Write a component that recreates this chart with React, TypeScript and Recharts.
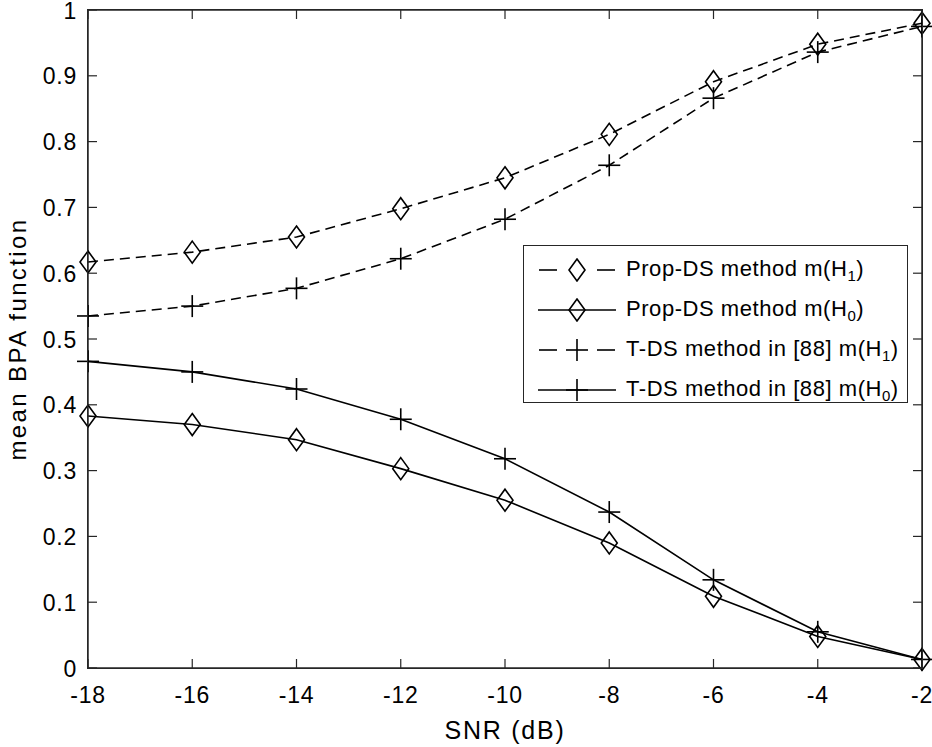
import { LineChart, Line, XAxis, YAxis, Label, ReferenceLine } from 'recharts'

const snr = [-18, -16, -14, -12, -10, -8, -6, -4, -2]
const propH1 = [0.617, 0.632, 0.655, 0.698, 0.745, 0.811, 0.891, 0.948, 0.98]
const propH0 = [0.383, 0.37, 0.347, 0.303, 0.255, 0.19, 0.109, 0.048, 0.013]
const tdsH1 = [0.535, 0.55, 0.577, 0.622, 0.682, 0.764, 0.866, 0.936, 0.975]
const tdsH0 = [0.466, 0.45, 0.424, 0.378, 0.318, 0.237, 0.134, 0.055, 0.013]

const xTicks = [-18, -16, -14, -12, -10, -8, -6, -4, -2]
const yTicks = [0, 0.1, 0.2, 0.3, 0.4, 0.5, 0.6, 0.7, 0.8, 0.9, 1]
const yTickLabels = ['0', '0.1', '0.2', '0.3', '0.4', '0.5', '0.6', '0.7', '0.8', '0.9', '1']

const legendItems = [
  { name: 'Prop-DS method m(H', sub: '1', marker: 'diamond', dashed: true },
  { name: 'Prop-DS method m(H', sub: '0', marker: 'diamond', dashed: false },
  { name: 'T-DS method in [88] m(H', sub: '1', marker: 'plus', dashed: true },
  { name: 'T-DS method in [88] m(H', sub: '0', marker: 'plus', dashed: false },
]

const data = snr.map((s, i) => ({
  snr: s,
  propH1: propH1[i],
  propH0: propH0[i],
  tdsH1: tdsH1[i],
  tdsH0: tdsH0[i],
}))

const FONT = '"Liberation Sans", Arial, Helvetica, sans-serif'
const AXIS = '#262626'
const DASH = '10 6'
const TICK_LEN = 9

const W = 932
const H = 747
const Y_AXIS_W = 88
const X_AXIS_H = 79
const MARGIN = { top: 10, right: 10, bottom: 0, left: 0 }
// plot box edges, used for the mirrored matlab-style ticks and the frame
const PLOT_TOP = MARGIN.top
const PLOT_RIGHT = W - MARGIN.right
const PLOT_LEFT = MARGIN.left + Y_AXIS_W
const PLOT_BOTTOM = H - MARGIN.bottom - X_AXIS_H

function diamondPath(cx: number, cy: number) {
  return `M${cx},${cy - 11} L${cx + 8},${cy} L${cx},${cy + 11} L${cx - 8},${cy} Z`
}

function DiamondDot(props: any) {
  const { cx, cy, index } = props
  if (cx == null || cy == null) return <g key={index} />
  return <path key={index} d={diamondPath(cx, cy)} fill="none" stroke="#000" strokeWidth={1.6} />
}

function PlusDot(props: any) {
  const { cx, cy, index } = props
  if (cx == null || cy == null) return <g key={index} />
  return (
    <g key={index} stroke="#000" strokeWidth={1.6}>
      <line x1={cx - 11} y1={cy} x2={cx + 11} y2={cy} />
      <line x1={cx} y1={cy - 11} x2={cx} y2={cy + 11} />
    </g>
  )
}

function BottomTick(props: any) {
  const { x, y, payload } = props
  return (
    <g>
      <line x1={x} y1={y} x2={x} y2={y - TICK_LEN} stroke={AXIS} strokeWidth={1.2} />
      <line x1={x} y1={PLOT_TOP} x2={x} y2={PLOT_TOP + TICK_LEN} stroke={AXIS} strokeWidth={1.2} />
      <text
        x={x}
        y={y + 35}
        textAnchor="middle"
        fontSize={23}
        letterSpacing={0.8}
        fill="#000"
        fontFamily={FONT}
      >
        {payload.value}
      </text>
    </g>
  )
}

function LeftTick(props: any) {
  const { x, y, payload, index } = props
  return (
    <g>
      <line x1={x} y1={y} x2={x + TICK_LEN} y2={y} stroke={AXIS} strokeWidth={1.2} />
      <line x1={PLOT_RIGHT} y1={y} x2={PLOT_RIGHT - TICK_LEN} y2={y} stroke={AXIS} strokeWidth={1.2} />
      <text
        x={x - 11}
        y={y + 8.5}
        textAnchor="end"
        fontSize={23}
        letterSpacing={0.8}
        fill="#000"
        fontFamily={FONT}
      >
        {yTickLabels[index] ?? payload.value}
      </text>
    </g>
  )
}

function LegendIcon({ marker, dashed }: { marker: string; dashed: boolean }) {
  const cy = 12
  const cx = 39
  return (
    <svg width={80} height={24} style={{ display: 'block' }}>
      {dashed ? (
        <g stroke="#000" strokeWidth={1.6}>
          <line x1={1} y1={cy} x2={19} y2={cy} />
          <line x1={59} y1={cy} x2={77} y2={cy} />
        </g>
      ) : (
        <line x1={0} y1={cy} x2={78} y2={cy} stroke="#000" strokeWidth={1.6} />
      )}
      {marker === 'diamond' ? (
        <path d={diamondPath(cx, cy)} fill="none" stroke="#000" strokeWidth={1.6} />
      ) : (
        <g stroke="#000" strokeWidth={1.6}>
          <line x1={cx - 11} y1={cy} x2={cx + 11} y2={cy} />
          <line x1={cx} y1={cy - 11} x2={cx} y2={cy + 11} />
        </g>
      )}
    </svg>
  )
}

function LegendBox() {
  return (
    <div
      style={{
        position: 'absolute',
        left: 523,
        top: 245,
        width: 385,
        height: 158,
        boxSizing: 'border-box',
        border: `1.5px solid ${AXIS}`,
        background: '#fff',
        paddingTop: 4,
        paddingLeft: 14,
        fontFamily: FONT,
      }}
    >
      {legendItems.map((item) => (
        <div key={item.name + item.sub} style={{ display: 'flex', alignItems: 'center', height: 40 }}>
          <LegendIcon marker={item.marker} dashed={item.dashed} />
          <span
            style={{
              fontSize: 22,
              letterSpacing: 0.55,
              color: '#000',
              marginLeft: 8,
              whiteSpace: 'nowrap',
            }}
          >
            {item.name}
            <sub style={{ fontSize: 15 }}>{item.sub}</sub>)
          </span>
        </div>
      ))}
    </div>
  )
}

// frame around the plot area, drawn on top so it can't get hidden
function PlotFrame() {
  return (
    <div
      style={{
        position: 'absolute',
        left: PLOT_LEFT - 1,
        top: PLOT_TOP - 1,
        width: PLOT_RIGHT - PLOT_LEFT + 2,
        height: PLOT_BOTTOM - PLOT_TOP + 2,
        boxSizing: 'border-box',
        border: `1.5px solid ${AXIS}`,
        pointerEvents: 'none',
      }}
    />
  )
}

export default function App() {
  return (
    <div
      style={{
        position: 'absolute',
        left: 0,
        top: 0,
        width: W,
        height: H,
        overflow: 'hidden',
        background: '#fff',
      }}
    >
      <LineChart width={W} height={H} data={data} margin={MARGIN}>
        <XAxis
          dataKey="snr"
          type="number"
          domain={[-18, -2]}
          ticks={xTicks}
          height={X_AXIS_H}
          stroke={AXIS}
          strokeWidth={1.5}
          tickLine={false}
          tickSize={0}
          tickMargin={0}
          tick={<BottomTick />}
          interval={0}
        >
          <Label
            value="SNR (dB)"
            position="insideBottom"
            offset={8}
            style={{ fontSize: 25, letterSpacing: 1.75, fill: '#000', fontFamily: FONT }}
          />
        </XAxis>
        <YAxis
          type="number"
          domain={[0, 1]}
          ticks={yTicks}
          width={Y_AXIS_W}
          stroke={AXIS}
          strokeWidth={1.5}
          tickLine={false}
          tickSize={0}
          tickMargin={0}
          tick={<LeftTick />}
          interval={0}
        >
          <Label
            value="mean BPA function"
            angle={-90}
            position="insideLeft"
            offset={17}
            style={{
              fontSize: 24,
              letterSpacing: 2.4,
              fill: '#000',
              fontFamily: FONT,
              textAnchor: 'middle',
            }}
          />
        </YAxis>
        <ReferenceLine y={1} stroke={AXIS} strokeWidth={1.5} ifOverflow="visible" />
        <ReferenceLine x={-2} stroke={AXIS} strokeWidth={1.5} ifOverflow="visible" />
        <Line
          dataKey="propH1"
          stroke="#000"
          strokeWidth={1.6}
          strokeDasharray={DASH}
          dot={DiamondDot}
          isAnimationActive={false}
        />
        <Line
          dataKey="propH0"
          stroke="#000"
          strokeWidth={1.6}
          dot={DiamondDot}
          isAnimationActive={false}
        />
        <Line
          dataKey="tdsH1"
          stroke="#000"
          strokeWidth={1.6}
          strokeDasharray={DASH}
          dot={PlusDot}
          isAnimationActive={false}
        />
        <Line
          dataKey="tdsH0"
          stroke="#000"
          strokeWidth={1.6}
          dot={PlusDot}
          isAnimationActive={false}
        />
      </LineChart>
      <PlotFrame />
      <LegendBox />
    </div>
  )
}
